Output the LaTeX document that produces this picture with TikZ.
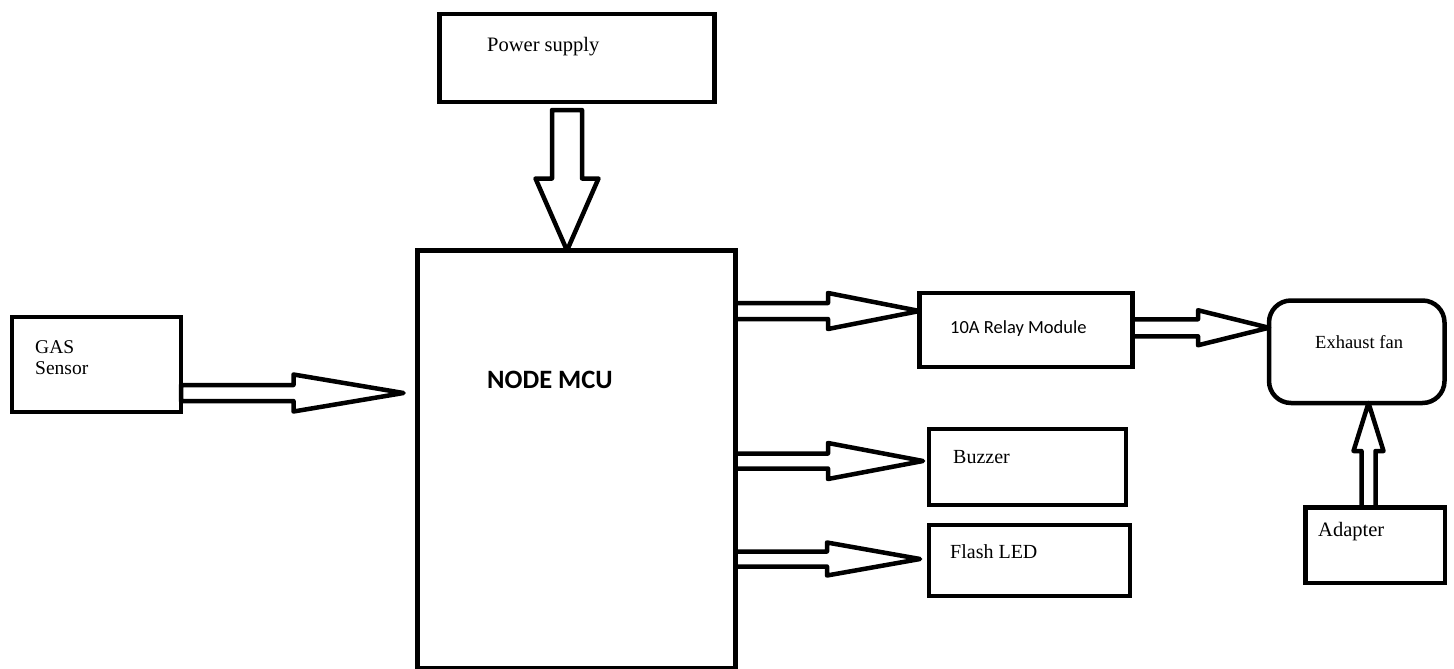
\documentclass[tikz,border=0pt]{standalone}
\usepackage{fontspec}
\setmainfont{Liberation Serif}
\newfontfamily\calibrifont{Carlito}
\usetikzlibrary{calc}

\tikzset{
  block/.style={draw, line width=4.5pt, inner sep=0pt, outer sep=0pt, anchor=north west},
  tag/.style={anchor=base west, inner sep=0pt, align=left, font=\fontsize{20}{21}\selectfont},
  fatline/.style={draw, line width=4.5pt, line join=round},
}

% hollow block arrow: from, to, shaft half width, head half width, head length
\newcommand{\fatarrow}[5]{%
  \coordinate (hb) at ($(#2)!#5!(#1)$);
  \draw[fatline] ($(#1)!#3!90:(#2)$) -- ($(hb)!#3!90:(#2)$) -- ($(hb)!#4!90:(#2)$) -- (#2)
    -- ($(hb)!#4!-90:(#2)$) -- ($(hb)!#3!-90:(#2)$) -- ($(#1)!#3!-90:(#2)$) -- cycle;
}

\begin{document}
\begin{tikzpicture}[x=1pt,y=-1pt]
        \useasboundingbox (0,0) rectangle (1454,669);
        % Define nodes
        % blocks
        \node[block, minimum width=275, minimum height=88, label={[tag, xshift=47.5, yshift=-38, font=\fontsize{20.5}{22}\selectfont]north west:Power supply}](power) at (439.5,14) {}; %
        \node[block, minimum width=318, minimum height=418, label={[tag, xshift=69.5, yshift=-138, font=\calibrifont\bfseries\fontsize{26.5}{28}\selectfont]north west:NODE MCU}](mcu) at (417.5,250.5) {}; %
        \node[block, minimum width=169, minimum height=95, label={[tag, xshift=23, yshift=-57, font=\fontsize{19.5}{21}\selectfont]north west:GAS\\Sensor}](gas) at (12,317) {}; %
        \node[block, minimum width=213, minimum height=74, label={[tag, xshift=30.5, yshift=-40, font=\calibrifont\fontsize{18.5}{20}\selectfont]north west:10A Relay Module}](relay) at (919.5,293) {}; %
        \node[block, minimum width=197, minimum height=76, label={[tag, xshift=24, yshift=-34]north west:Buzzer}](buzzer) at (929,429) {}; %
        \node[block, minimum width=201, minimum height=71, label={[tag, xshift=21, yshift=-33]north west:Flash LED}](flash) at (929,525) {}; %
        \node[block, rounded corners=22, minimum width=175.5, minimum height=102.5, label={[tag, xshift=46, yshift=-47.5, font=\fontsize{18.5}{20}\selectfont]north west:Exhaust fan}](fan) at (1269,300.5) {}; %
        \node[block, minimum width=139.5, minimum height=75.5, label={[tag, xshift=12.75, yshift=-28.75, font=\fontsize{20.5}{22}\selectfont]north west:Adapter}](adapter) at (1305.25,507.25) {}; %
        % arrow ends
        \coordinate (gasout) at ([yshift=-28.5]gas.east);
        \coordinate (mcuin) at ([xshift=-14]mcu.west |- gasout);
        \coordinate (pwrout) at ([xshift=-10, yshift=-8]power.south);
        \coordinate (pwrin) at (pwrout |- mcu.north);
        \coordinate (relayin) at ([yshift=19]relay.west);
        \coordinate (relayfrom) at (mcu.east |- relayin);
        \coordinate (fanin) at ([yshift=24]fan.west);
        \coordinate (relayout) at (relay.east |- fanin);
        \coordinate (buzzin) at ([xshift=-6, yshift=6]buzzer.west);
        \coordinate (buzzfrom) at (mcu.east |- buzzin);
        \coordinate (flashin) at ([xshift=-9, yshift=1.5]flash.west);
        \coordinate (flashfrom) at (mcu.east |- flashin);
        \coordinate (adaptout) at ([xshift=-6.5]adapter.north);
        \coordinate (fanbase) at (adaptout |- fan.south);
        % arrows
        \fatarrow{gasout}{mcuin}{8pt}{18.5pt}{110pt}
        \fatarrow{pwrout}{pwrin}{15pt}{31.5pt}{72pt}
        \fatarrow{relayfrom}{relayin}{8pt}{18pt}{91.5pt}
        \fatarrow{relayout}{fanin}{8.5pt}{17.5pt}{71pt}
        \fatarrow{buzzfrom}{buzzin}{7.5pt}{18pt}{95pt}
        \fatarrow{flashfrom}{flashin}{7.5pt}{16.5pt}{93pt}
        \fatarrow{adaptout}{fanbase}{7pt}{15pt}{48pt}
\end{tikzpicture}
\end{document}
